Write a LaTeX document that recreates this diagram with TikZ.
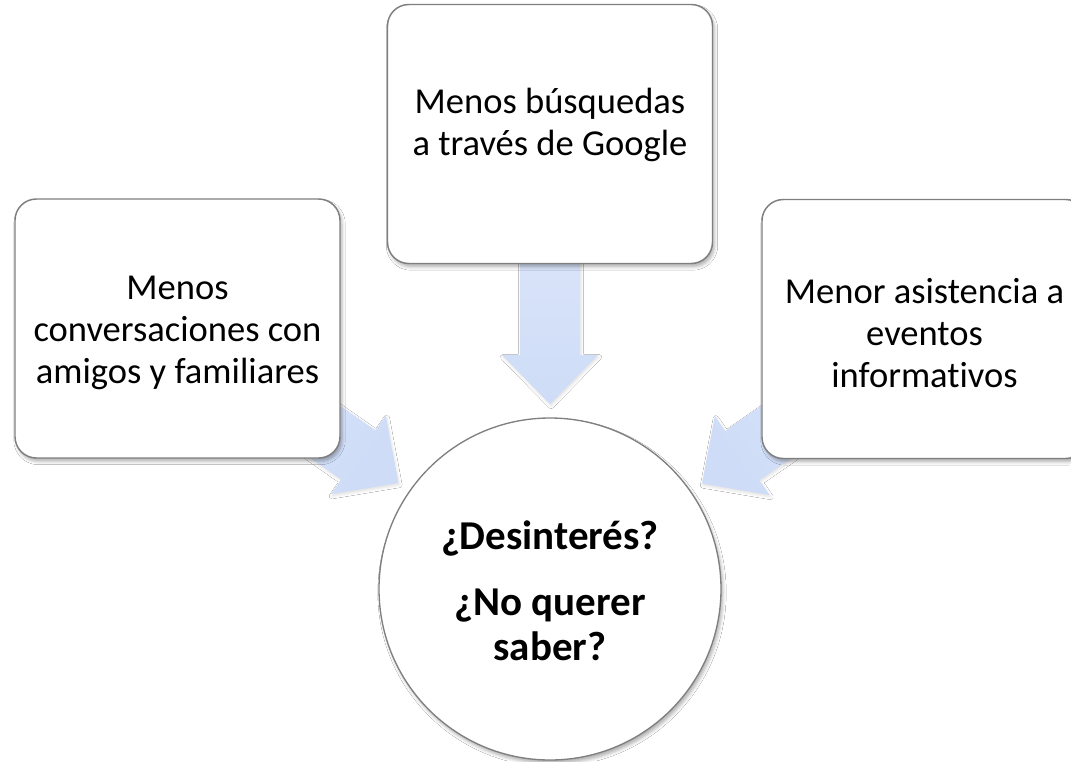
\documentclass[tikz,border=0pt]{standalone}
\usepackage{fontspec}
\setmainfont[Ligatures={NoCommon}]{Carlito}
\usetikzlibrary{calc,shadows.blur}
\pgfdeclarelayer{bg}
\pgfsetlayers{bg,main}
\definecolor{boxline}{HTML}{7F7F7F}
\definecolor{arrowA}{HTML}{E2EAFB}
\definecolor{arrowB}{HTML}{CEDCF7}
\tikzset{
  softshadow/.style={blur shadow={shadow xshift=1.5pt, shadow yshift=-2.6pt, shadow blur radius=2.4pt, shadow opacity=30}},
  infobox/.style={draw=boxline, line width=1.1pt, fill=white, rounded corners=16pt,
    minimum width=243.75pt, minimum height=194.25pt, inner sep=0pt, softshadow},
  boxtext/.style={align=center, inner sep=0pt, font=\fontsize{27.4pt}{31.5pt}\selectfont},
  hub/.style={circle, draw=boxline, line width=1pt, fill=white, minimum size=256.5pt, inner sep=0pt, softshadow},
  hubtext/.style={align=center, inner sep=0pt, font=\fontsize{30.75pt}{33.75pt}\selectfont\bfseries},
  arrowshade/.style={top color=arrowA, bottom color=arrowB, shading angle=#1,
    blur shadow={shadow xshift=0.8pt, shadow yshift=-1.5pt, shadow blur radius=2pt, shadow opacity=12}},
}
\newcommand{\blockarr}[3]{%
  \coordinate (tipP) at ($(#2.center)!138.75pt!(#1.center)$);
  \coordinate (baseP) at ($(tipP)!36.75pt!(#1.center)$);
  \shade[arrowshade=#3]
    ($(#1.center)!22.5pt!90:(tipP)$) -- ($(baseP)!22.5pt!90:(tipP)$) --
    ($(baseP)!36pt!90:(tipP)$) -- (tipP) -- ($(baseP)!36pt!-90:(tipP)$) --
    ($(baseP)!22.5pt!-90:(tipP)$) -- ($(#1.center)!22.5pt!-90:(tipP)$) -- cycle;
}
\begin{document}
\begin{tikzpicture}[x=0.75pt, y=-0.75pt]
  \useasboundingbox (0,0) rectangle (1071,761);
  \clip (0,0) rectangle (1071,761);

  \node[infobox] (lbox) at (177.5,328.5) {};
  \node[infobox] (tbox) at (550,134) {};
  \node[infobox] (rbox) at (924.5,329) {};
  \node[hub] (hub) at (550,589) {};

  \node[boxtext] (ltext) at (177.5,333) {Menos\\conversaciones con\\amigos y familiares};
  \node[boxtext] (ttext) at (550,125) {Menos búsquedas\\a través de Google};
  \node[boxtext] (rtext) at (924.5,333) {Menor asistencia a\\eventos\\informativos};
  \node[hubtext] (htext) at (550,591) {¿Desinterés?\\[15.75pt]¿No querer\\saber?};

  \begin{pgfonlayer}{bg}
    \fill[white] (0,0) rectangle (1071,761);
    \blockarr{lbox}{hub}{55}
    \blockarr{tbox}{hub}{0}
    \blockarr{rbox}{hub}{-55}
  \end{pgfonlayer}
\end{tikzpicture}
\end{document}
